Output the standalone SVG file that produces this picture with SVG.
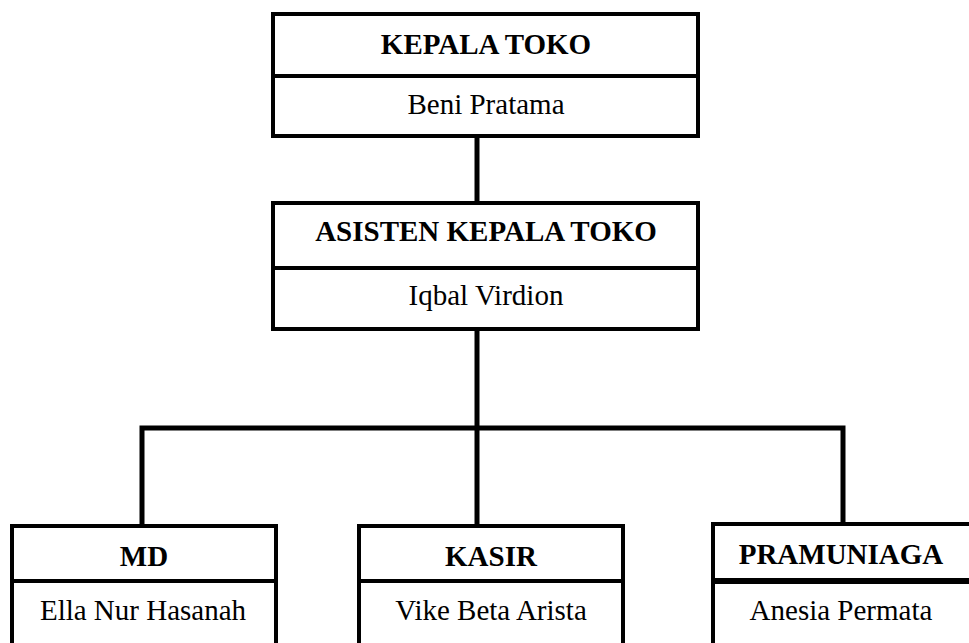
<svg xmlns="http://www.w3.org/2000/svg" width="969" height="643" viewBox="0 0 969 643">
<style>
.box{fill:#fff;stroke:#000;stroke-width:4}
.div{stroke:#000;stroke-width:4}
.conn{stroke:#000;stroke-width:5;fill:none}
.t{font-family:"Liberation Serif","Times New Roman",serif;font-size:29px;text-anchor:middle;fill:#000}
.b{font-weight:bold}
</style>
<rect width="969" height="643" fill="#fff"/>
<g id="connectors">
<line class="conn" x1="477" y1="136" x2="477" y2="203"/>
<line class="conn" x1="477" y1="329" x2="477" y2="526"/>
<polyline class="conn" points="142,526 142,428 843,428 843,524"/>
</g>
<g id="kepala-toko">
<rect class="box" x="273" y="14" width="425" height="122"/>
<line class="div" x1="273" y1="76" x2="698" y2="76"/>
<text class="t b" x="486" y="54">KEPALA TOKO</text>
<text class="t" x="486" y="114">Beni Pratama</text>
</g>
<g id="asisten-kepala-toko">
<rect class="box" x="273" y="203" width="425" height="126"/>
<line class="div" x1="273" y1="268" x2="698" y2="268"/>
<text class="t b" x="486" y="241">ASISTEN KEPALA TOKO</text>
<text class="t" x="486" y="305">Iqbal Virdion</text>
</g>
<g id="md">
<rect class="box" x="12" y="526" width="264" height="140"/>
<line class="div" x1="12" y1="581" x2="276" y2="581"/>
<text class="t b" x="144" y="566">MD</text>
<text class="t" x="143" y="620">Ella Nur Hasanah</text>
</g>
<g id="kasir">
<rect class="box" x="359" y="526" width="264" height="140"/>
<line class="div" x1="359" y1="581" x2="623" y2="581"/>
<text class="t b" x="491" y="566">KASIR</text>
<text class="t" x="491" y="620">Vike Beta Arista</text>
</g>
<g id="pramuniaga">
<rect class="box" x="713" y="524" width="260" height="142"/>
<line class="div" x1="713" y1="581" x2="973" y2="581" style="stroke-width:6"/>
<text class="t b" x="841" y="564">PRAMUNIAGA</text>
<text class="t" x="841" y="620">Anesia Permata</text>
</g>
</svg>
